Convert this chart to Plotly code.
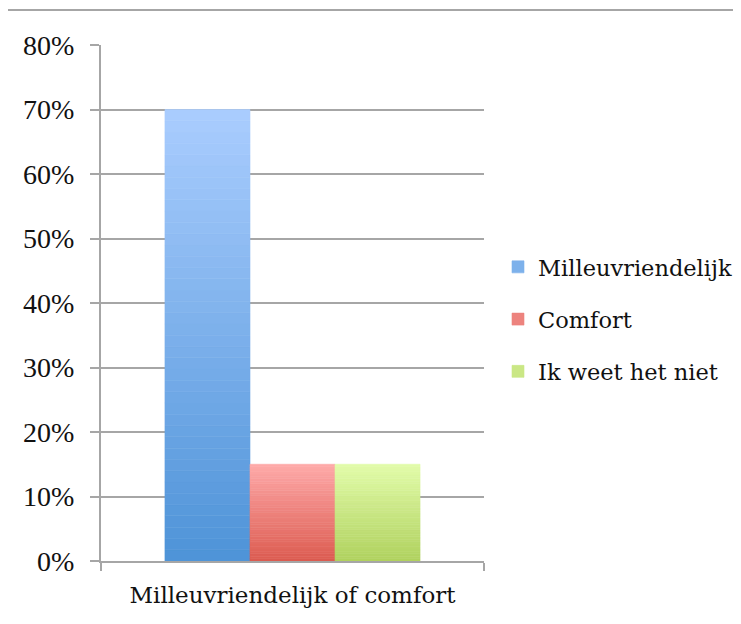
import plotly.graph_objects as go

categories = ["Milleuvriendelijk of comfort"]
series_names = ["Milleuvriendelijk", "Comfort", "Ik weet het niet"]
series_values = [0.70, 0.15, 0.15]
y_tick_values = [0, 0.1, 0.2, 0.3, 0.4, 0.5, 0.6, 0.7, 0.8]
y_tick_labels = ["0%", "10%", "20%", "30%", "40%", "50%", "60%", "70%", "80%"]

# gradient colours (top, bottom) per series
grad_top = [(170, 205, 254), (254, 170, 169), (226, 252, 170)]
grad_bottom = [(78, 147, 216), (220, 91, 80), (176, 209, 94)]

N = 40
fig = go.Figure()
for s, (name, val) in enumerate(zip(series_names, series_values)):
    step = val / N
    for i in range(N):
        t = (i + 0.5) / N  # 0 bottom -> 1 top
        c = "rgb(%d,%d,%d)" % tuple(round(grad_bottom[s][k] + (grad_top[s][k] - grad_bottom[s][k]) * t) for k in range(3))
        show = i == N // 2
        fig.add_trace(go.Bar(
            x=categories, y=[step], base=[i * step],
            name=name, offsetgroup=str(s), legendgroup=name,
            showlegend=show,
            marker=dict(color=c, line=dict(width=0.6, color=c)),
            hoverinfo="skip",
        ))

# page body adds an 8px offset; margins compensate
L, T, PW, PH = 93, 37, 383, 516
top_line_y = 1 + (T - 2) / PH
fig.update_layout(
    template="plotly",
    width=741, height=624,
    margin=dict(l=L, r=741 - L - PW, t=T, b=624 - T - PH, autoexpand=False),
    paper_bgcolor="white", plot_bgcolor="white",
    barmode="group", bargap=0.334, bargroupgap=0,
    font=dict(family="DejaVu Serif", size=23, color="#111111"),
    showlegend=True,
    legend=dict(xref="container", yref="container",
                x=490 / 741, xanchor="left", y=0.619, yanchor="top",
                tracegroupgap=20, font=dict(family="DejaVu Serif", size=22.5),
                bgcolor="rgba(0,0,0,0)"),
    xaxis=dict(automargin=False, showline=True, linecolor="#a6a6a6", linewidth=2,
               ticks="outside", ticklen=8, tickcolor="#a6a6a6", tickwidth=2,
               tickson="boundaries", showgrid=False,
               tickfont=dict(family="DejaVu Serif", size=23), ticklabelstandoff=12),
    yaxis=dict(automargin=False, range=[0, 0.8], tickvals=y_tick_values, ticktext=y_tick_labels,
               showline=True, linecolor="#a6a6a6", linewidth=2,
               ticks="outside", ticklen=9, tickcolor="#a6a6a6", tickwidth=2,
               showgrid=True, gridcolor="#a6a6a6", gridwidth=2, zeroline=False,
               tickfont=dict(family="Liberation Serif", size=28), ticklabelstandoff=10),
    shapes=[dict(type="line", xref="paper", yref="paper",
                 x0=(0 - L) / PW, x1=(741 - L) / PW,
                 y0=top_line_y, y1=top_line_y,
                 line=dict(color="#a6a6a6", width=2))],
)

fig.write_html("out.html")
